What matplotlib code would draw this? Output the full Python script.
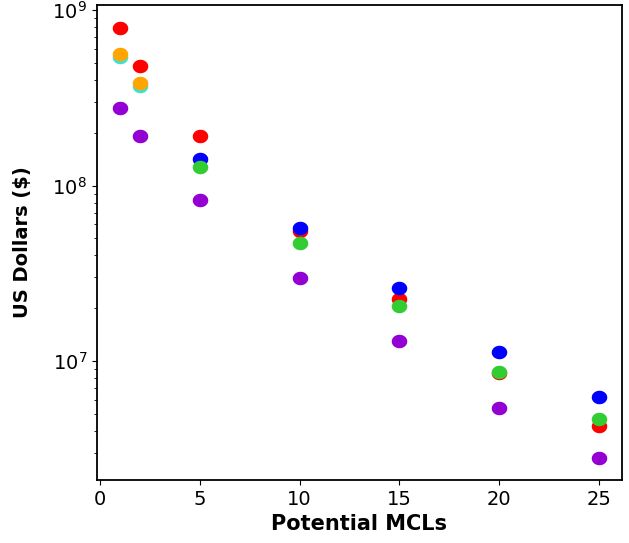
import matplotlib
matplotlib.use("Agg")
import numpy as np
import matplotlib.pyplot as plt
from matplotlib.path import Path

x_full = [1, 2, 5, 10, 15, 20, 25]
x_high = [1, 2]
x_low = [5, 10, 15, 20, 25]

red = [7.9e8, 4.8e8, 1.91e8, 5.5e7, 2.25e7, 8.6e6, 4.27e6]
cyan = [5.4e8, 3.7e8]
orange = [5.6e8, 3.84e8]
blue = [1.42e8, 5.73e7, 2.6e7, 1.12e7, 6.24e6]
green = [1.27e8, 4.7e7, 2.06e7, 8.65e6, 4.68e6]
purple = [2.77e8, 1.91e8, 8.3e7, 2.97e7, 1.3e7, 5.4e6, 2.8e6]

t = np.linspace(0, 2 * np.pi, 60)
ell = Path(np.column_stack([np.cos(t), 0.87 * np.sin(t)]), closed=True)

fig = plt.figure(figsize=(6.29, 5.43), dpi=100)
ax = fig.add_axes([0.154, 0.116, 0.835, 0.875])
s = 125
kw = dict(s=s, marker=ell, linewidths=0, zorder=3)
ax.scatter(x_full, red, color='red', **kw)
ax.scatter(x_high, cyan, color='turquoise', **kw)
ax.scatter(x_high, orange, color='orange', **kw)
ax.scatter(x_low, blue, color='blue', **kw)
ax.scatter(x_low, green, color='limegreen', **kw)
ax.scatter(x_full, purple, color='darkviolet', **kw)

ax.set_yscale('log')
ax.set_ylim(2.1e6, 1.07e9)
ax.set_xlim(-0.15, 26.15)
ax.set_xticks([0, 5, 10, 15, 20, 25])
ax.tick_params(labelsize=14)
ax.set_xlabel('Potential MCLs', fontsize=15, fontweight='bold')
ax.set_ylabel('US Dollars ($)', fontsize=14, fontweight='bold')
ax.yaxis.set_label_coords(-0.124, 0.5)
for sp in ax.spines.values():
    sp.set_linewidth(1.3)
fig.savefig('out.png', dpi=100)
